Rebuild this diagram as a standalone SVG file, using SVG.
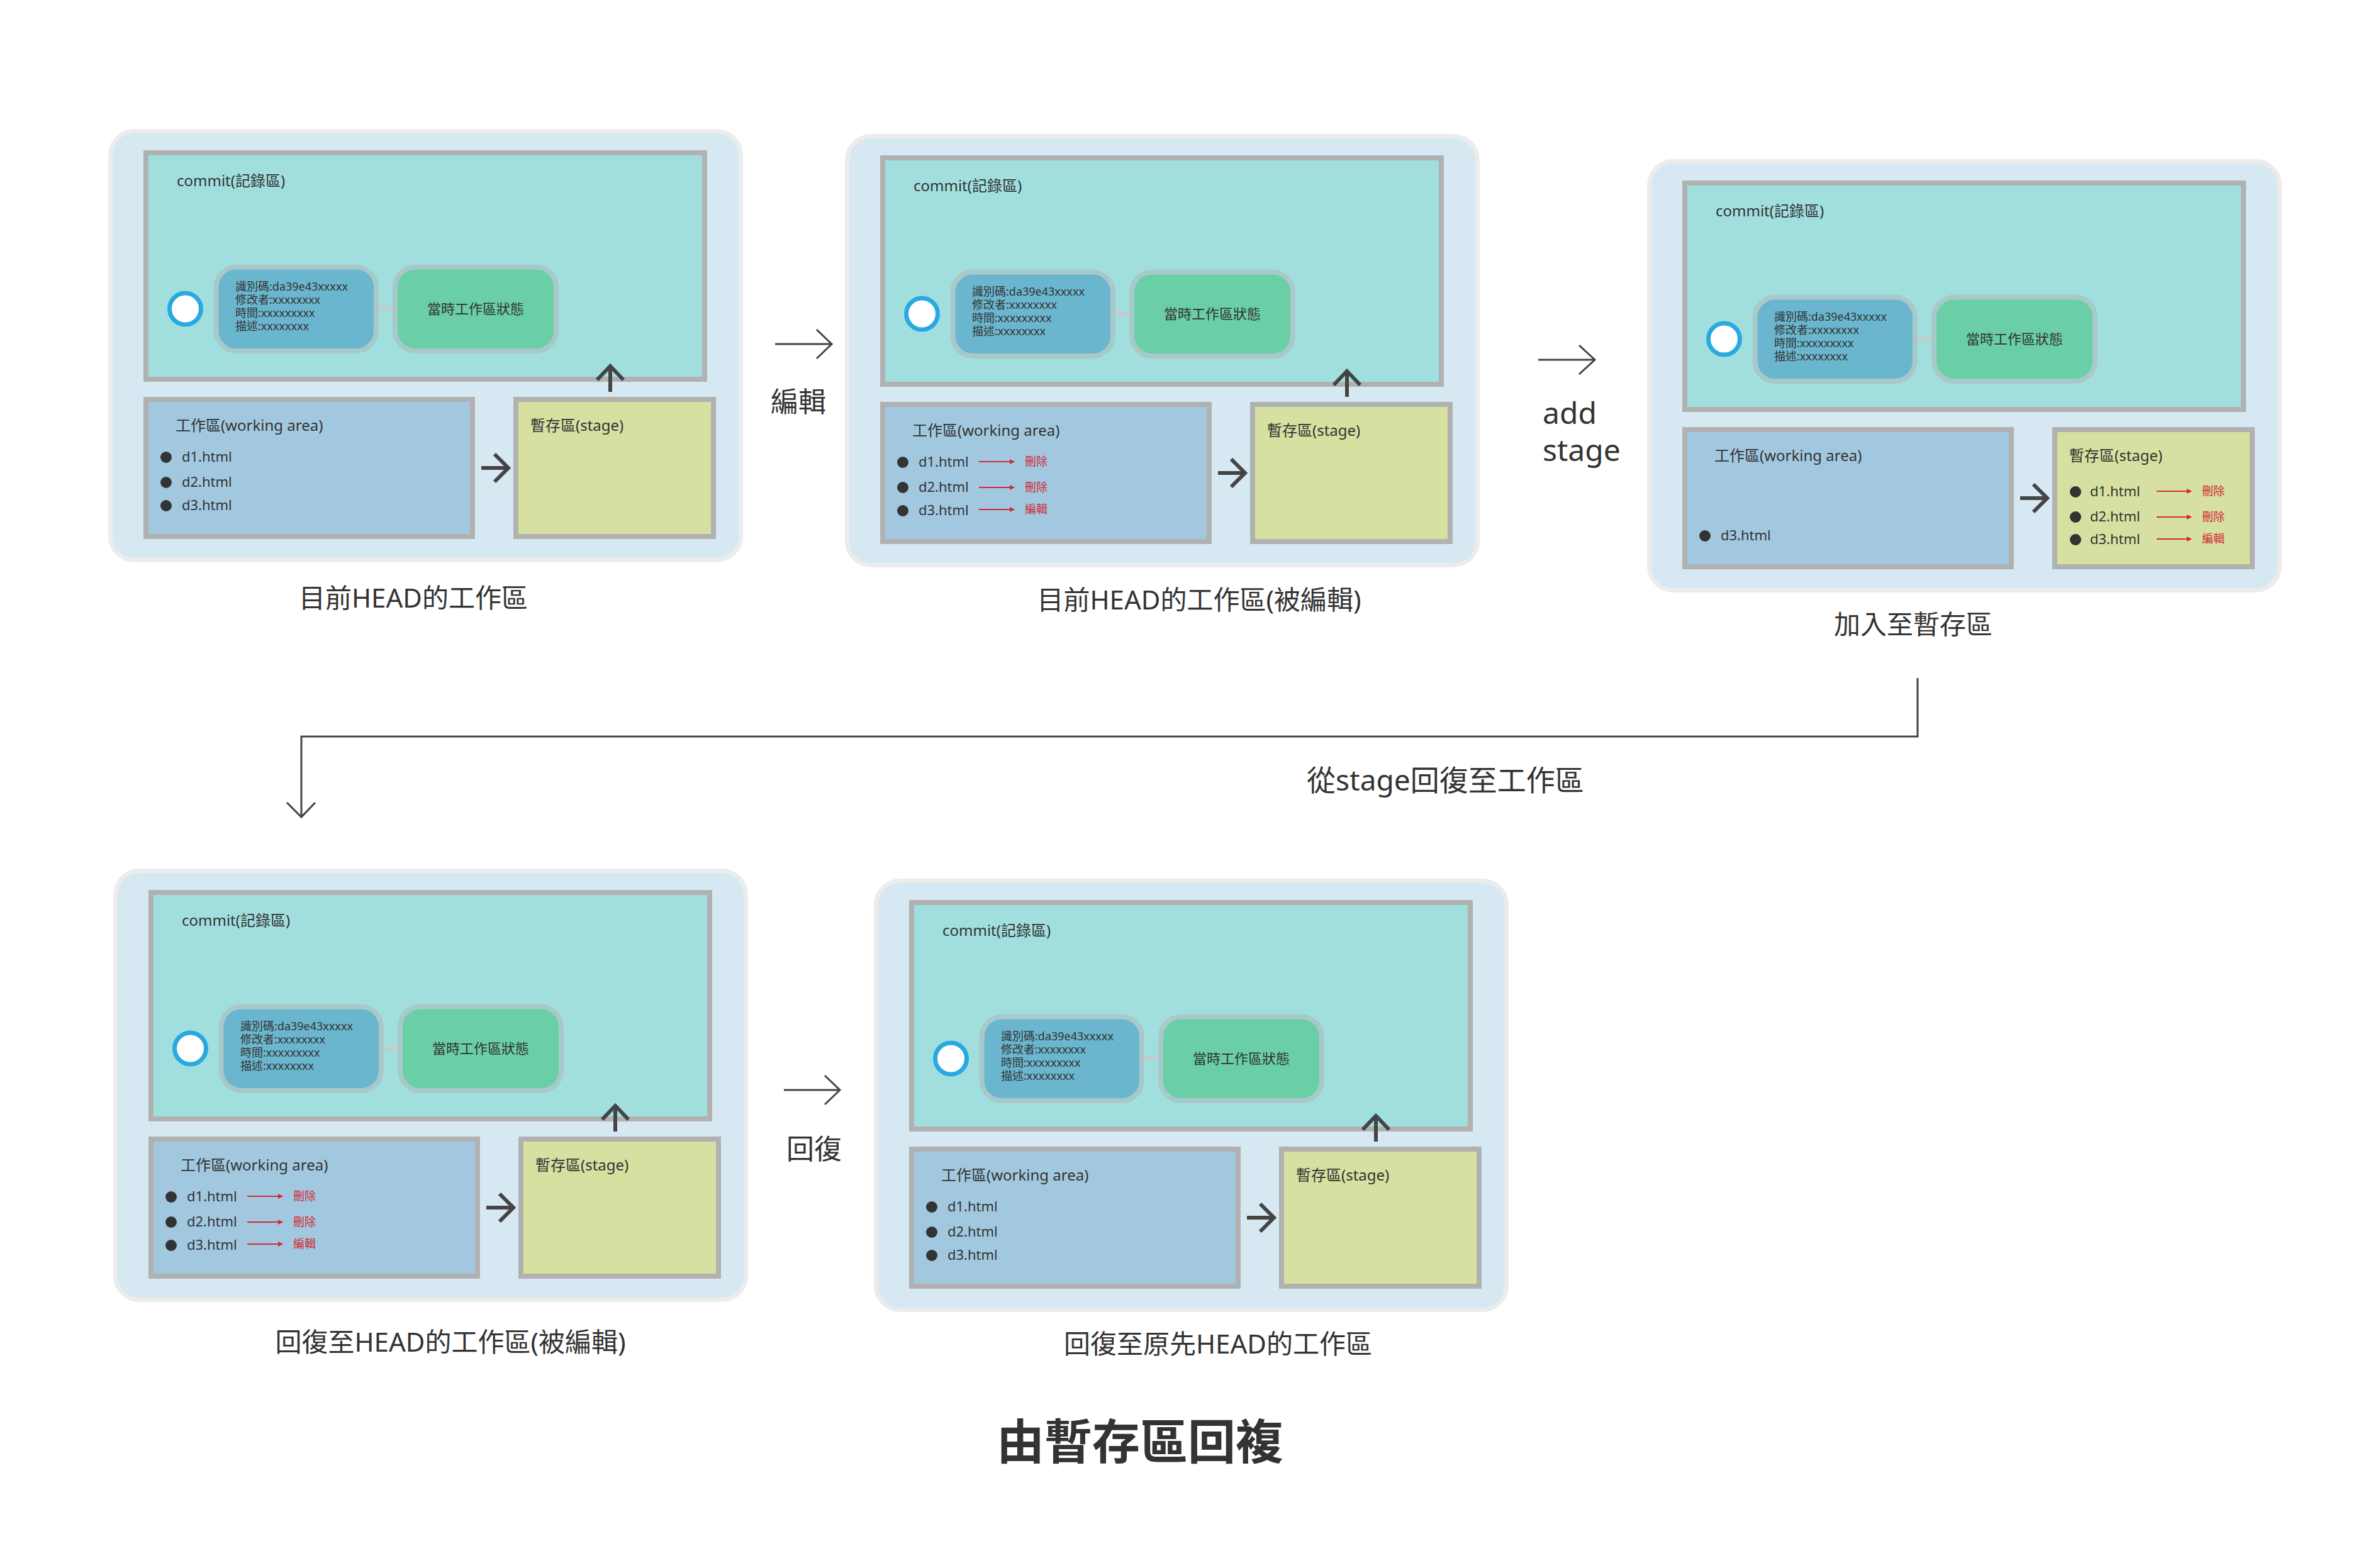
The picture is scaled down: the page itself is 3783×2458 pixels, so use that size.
<svg xmlns="http://www.w3.org/2000/svg" width="3783" height="2458" viewBox="0 0 3783 2458">
<style>
.bg{fill:#ffffff}
.outer{fill:#d6e8f1;stroke:#ececec;stroke-width:7}
.commit{fill:#a1dfdf;stroke:#b1b1b1;stroke-width:8}
.info{fill:#6ab6ce;stroke:#a8c9c9;stroke-width:8}
.state{fill:#6acea7;stroke:#a8c9c9;stroke-width:8}
.work{fill:#a2c8e0;stroke:#b1b1b1;stroke-width:8}
.stage{fill:#d6e0a0;stroke:#b1b1b1;stroke-width:8}
.head{fill:#ffffff;stroke:#2aa9e0;stroke-width:7}
.link{stroke:#c9c9c9;stroke-width:6}
.t{font-family:"Noto Sans","Noto Sans CJK TC",sans-serif;fill:#333333}
.lbl{font-size:24px}
.inf{font-size:18px}
.st{font-size:22px;text-anchor:middle}
.file{font-size:22px}
.dot{fill:#333333}
.arr{fill:none;stroke:#444444;stroke-width:6;stroke-linecap:butt}
.thin{fill:none;stroke:#444444;stroke-width:3}
.red{stroke:#d22a35;stroke-width:2;marker-end:url(#rh)}
.rt{font-family:"Noto Sans CJK TC",sans-serif;font-size:18px;fill:#d22a35}
.cap{font-size:42px;text-anchor:middle}
.big{font-size:44px}
.mid{font-size:48px}
.title{font-family:"Noto Sans CJK TC",sans-serif;font-size:76px;font-weight:bold;fill:#333333;text-anchor:middle}
</style>
<defs>
<marker id="rh" markerWidth="8" markerHeight="8" refX="7" refY="4" orient="auto" markerUnits="userSpaceOnUse">
<path d="M0,0 L8,4 L0,8 Z" fill="#d22a35"/>
</marker>
</defs>
<rect class="bg" x="0" y="0" width="3783" height="2458"/>

<!-- Panel 1 -->
<g id="panel1">
<rect class="outer" x="175.5" y="208.5" width="1002" height="682" rx="38"/>
<g id="p1-commit">
<rect class="commit" x="232" y="243" width="888" height="360"/>
<text class="t lbl" x="281" y="296">commit(記錄區)</text>
<line class="link" x1="600" y1="491" x2="626" y2="491"/>
<circle class="head" cx="294.5" cy="491" r="25"/>
<g id="p1-info"><rect class="info" x="343.5" y="424.5" width="254.5" height="133.5" rx="32"/>
<text class="t inf" x="374" y="462">識別碼:da39e43xxxxx</text>
<text class="t inf" x="374" y="483">修改者:xxxxxxxx</text>
<text class="t inf" x="374" y="504">時間:xxxxxxxxx</text>
<text class="t inf" x="374" y="525">描述:xxxxxxxx</text></g>
<g id="p1-state"><rect class="state" x="628" y="424.5" width="256" height="133.5" rx="32"/>
<text class="t st" x="756" y="499">當時工作區狀態</text></g>
</g>
<g id="p1-work">
<rect class="work" x="232" y="635" width="519" height="218"/>
<text class="t lbl" x="279" y="685">工作區(working area)</text>
<circle class="dot" cx="264" cy="727" r="9"/><text class="t file" x="289" y="734">d1.html</text>
<circle class="dot" cx="264" cy="767" r="9"/><text class="t file" x="289" y="774">d2.html</text>
<circle class="dot" cx="264" cy="804" r="9"/><text class="t file" x="289" y="811">d3.html</text>
</g>
<g id="p1-stage">
<rect class="stage" x="820" y="635" width="314" height="218"/>
<text class="t lbl" x="843" y="685">暫存區(stage)</text>
</g>
<g id="p1-arrows">
<path class="arr" d="M765,744 H807 M786,722 L808,744 L786,766"/>
<path class="arr" d="M970,623 V583 M949,604 L970,582 L991,604"/>
</g>
</g>

<!-- Panel 2 -->
<g id="panel2" transform="translate(1171,8)">
<rect class="outer" x="175.5" y="208.5" width="1002" height="682" rx="38"/>
<g id="p2-commit">
<rect class="commit" x="232" y="243" width="888" height="360"/>
<text class="t lbl" x="281" y="296">commit(記錄區)</text>
<line class="link" x1="600" y1="491" x2="626" y2="491"/>
<circle class="head" cx="294.5" cy="491" r="25"/>
<g id="p2-info"><rect class="info" x="343.5" y="424.5" width="254.5" height="133.5" rx="32"/>
<text class="t inf" x="374" y="462">識別碼:da39e43xxxxx</text>
<text class="t inf" x="374" y="483">修改者:xxxxxxxx</text>
<text class="t inf" x="374" y="504">時間:xxxxxxxxx</text>
<text class="t inf" x="374" y="525">描述:xxxxxxxx</text></g>
<g id="p2-state"><rect class="state" x="628" y="424.5" width="256" height="133.5" rx="32"/>
<text class="t st" x="756" y="499">當時工作區狀態</text></g>
</g>
<g id="p2-work">
<rect class="work" x="232" y="635" width="519" height="218"/>
<text class="t lbl" x="279" y="685">工作區(working area)</text>
<circle class="dot" cx="264" cy="727" r="9"/><text class="t file" x="289" y="734">d1.html</text>
<circle class="dot" cx="264" cy="767" r="9"/><text class="t file" x="289" y="774">d2.html</text>
<circle class="dot" cx="264" cy="804" r="9"/><text class="t file" x="289" y="811">d3.html</text>
<line class="red" x1="385" y1="726" x2="441" y2="726"/><text class="rt" x="458" y="732">刪除</text>
<line class="red" x1="385" y1="767" x2="441" y2="767"/><text class="rt" x="458" y="773">刪除</text>
<line class="red" x1="385" y1="802" x2="441" y2="802"/><text class="rt" x="458" y="808">編輯</text>
</g>
<g id="p2-stage">
<rect class="stage" x="820" y="635" width="314" height="218"/>
<text class="t lbl" x="843" y="685">暫存區(stage)</text>
</g>
<g id="p2-arrows">
<path class="arr" d="M765,744 H807 M786,722 L808,744 L786,766"/>
<path class="arr" d="M970,623 V583 M949,604 L970,582 L991,604"/>
</g>
</g>

<!-- Panel 3 -->
<g id="panel3" transform="translate(2446,48)">
<rect class="outer" x="175.5" y="208.5" width="1002" height="682" rx="38"/>
<g id="p3-commit">
<rect class="commit" x="232" y="243" width="888" height="360"/>
<text class="t lbl" x="281" y="296">commit(記錄區)</text>
<line class="link" x1="600" y1="491" x2="626" y2="491"/>
<circle class="head" cx="294.5" cy="491" r="25"/>
<g id="p3-info"><rect class="info" x="343.5" y="424.5" width="254.5" height="133.5" rx="32"/>
<text class="t inf" x="374" y="462">識別碼:da39e43xxxxx</text>
<text class="t inf" x="374" y="483">修改者:xxxxxxxx</text>
<text class="t inf" x="374" y="504">時間:xxxxxxxxx</text>
<text class="t inf" x="374" y="525">描述:xxxxxxxx</text></g>
<g id="p3-state"><rect class="state" x="628" y="424.5" width="256" height="133.5" rx="32"/>
<text class="t st" x="756" y="499">當時工作區狀態</text></g>
</g>
<g id="p3-work">
<rect class="work" x="232" y="635" width="519" height="218"/>
<text class="t lbl" x="279" y="685">工作區(working area)</text>
<circle class="dot" cx="264" cy="804" r="9"/><text class="t file" x="289" y="811">d3.html</text>
</g>
<g id="p3-stage">
<rect class="stage" x="820" y="635" width="314" height="218"/>
<text class="t lbl" x="843" y="685">暫存區(stage)</text>
<circle class="dot" cx="853" cy="734" r="9"/><text class="t file" x="876" y="741">d1.html</text>
<circle class="dot" cx="853" cy="774" r="9"/><text class="t file" x="876" y="781">d2.html</text>
<circle class="dot" cx="853" cy="810" r="9"/><text class="t file" x="876" y="817">d3.html</text>
<line class="red" x1="982" y1="733" x2="1037" y2="733"/><text class="rt" x="1054" y="739">刪除</text>
<line class="red" x1="982" y1="774" x2="1037" y2="774"/><text class="rt" x="1054" y="780">刪除</text>
<line class="red" x1="982" y1="809" x2="1037" y2="809"/><text class="rt" x="1054" y="815">編輯</text>
</g>
<g id="p3-arrows">
<path class="arr" d="M765,744 H807 M786,722 L808,744 L786,766"/>
</g>
</g>

<!-- Panel 4 -->
<g id="panel4" transform="translate(8,1176)">
<rect class="outer" x="175.5" y="208.5" width="1002" height="682" rx="38"/>
<g id="p4-commit">
<rect class="commit" x="232" y="243" width="888" height="360"/>
<text class="t lbl" x="281" y="296">commit(記錄區)</text>
<line class="link" x1="600" y1="491" x2="626" y2="491"/>
<circle class="head" cx="294.5" cy="491" r="25"/>
<g id="p4-info"><rect class="info" x="343.5" y="424.5" width="254.5" height="133.5" rx="32"/>
<text class="t inf" x="374" y="462">識別碼:da39e43xxxxx</text>
<text class="t inf" x="374" y="483">修改者:xxxxxxxx</text>
<text class="t inf" x="374" y="504">時間:xxxxxxxxx</text>
<text class="t inf" x="374" y="525">描述:xxxxxxxx</text></g>
<g id="p4-state"><rect class="state" x="628" y="424.5" width="256" height="133.5" rx="32"/>
<text class="t st" x="756" y="499">當時工作區狀態</text></g>
</g>
<g id="p4-work">
<rect class="work" x="232" y="635" width="519" height="218"/>
<text class="t lbl" x="279" y="685">工作區(working area)</text>
<circle class="dot" cx="264" cy="727" r="9"/><text class="t file" x="289" y="734">d1.html</text>
<circle class="dot" cx="264" cy="767" r="9"/><text class="t file" x="289" y="774">d2.html</text>
<circle class="dot" cx="264" cy="804" r="9"/><text class="t file" x="289" y="811">d3.html</text>
<line class="red" x1="385" y1="726" x2="441" y2="726"/><text class="rt" x="458" y="732">刪除</text>
<line class="red" x1="385" y1="767" x2="441" y2="767"/><text class="rt" x="458" y="773">刪除</text>
<line class="red" x1="385" y1="802" x2="441" y2="802"/><text class="rt" x="458" y="808">編輯</text>
</g>
<g id="p4-stage">
<rect class="stage" x="820" y="635" width="314" height="218"/>
<text class="t lbl" x="843" y="685">暫存區(stage)</text>
</g>
<g id="p4-arrows">
<path class="arr" d="M765,744 H807 M786,722 L808,744 L786,766"/>
<path class="arr" d="M970,623 V583 M949,604 L970,582 L991,604"/>
</g>
</g>

<!-- Panel 5 -->
<g id="panel5" transform="translate(1217,1192)">
<rect class="outer" x="175.5" y="208.5" width="1002" height="682" rx="38"/>
<g id="p5-commit">
<rect class="commit" x="232" y="243" width="888" height="360"/>
<text class="t lbl" x="281" y="296">commit(記錄區)</text>
<line class="link" x1="600" y1="491" x2="626" y2="491"/>
<circle class="head" cx="294.5" cy="491" r="25"/>
<g id="p5-info"><rect class="info" x="343.5" y="424.5" width="254.5" height="133.5" rx="32"/>
<text class="t inf" x="374" y="462">識別碼:da39e43xxxxx</text>
<text class="t inf" x="374" y="483">修改者:xxxxxxxx</text>
<text class="t inf" x="374" y="504">時間:xxxxxxxxx</text>
<text class="t inf" x="374" y="525">描述:xxxxxxxx</text></g>
<g id="p5-state"><rect class="state" x="628" y="424.5" width="256" height="133.5" rx="32"/>
<text class="t st" x="756" y="499">當時工作區狀態</text></g>
</g>
<g id="p5-work">
<rect class="work" x="232" y="635" width="519" height="218"/>
<text class="t lbl" x="279" y="685">工作區(working area)</text>
<circle class="dot" cx="264" cy="727" r="9"/><text class="t file" x="289" y="734">d1.html</text>
<circle class="dot" cx="264" cy="767" r="9"/><text class="t file" x="289" y="774">d2.html</text>
<circle class="dot" cx="264" cy="804" r="9"/><text class="t file" x="289" y="811">d3.html</text>
</g>
<g id="p5-stage">
<rect class="stage" x="820" y="635" width="314" height="218"/>
<text class="t lbl" x="843" y="685">暫存區(stage)</text>
</g>
<g id="p5-arrows">
<path class="arr" d="M765,744 H807 M786,722 L808,744 L786,766"/>
<path class="arr" d="M970,623 V583 M949,604 L970,582 L991,604"/>
</g>
</g>

<!-- Captions -->
<g id="captions">
<text class="t cap" x="657" y="966">目前HEAD的工作區</text>
<text class="t cap" x="1906" y="969">目前HEAD的工作區(被編輯)</text>
<text class="t cap" x="3041" y="1008">加入至暫存區</text>
<text class="t cap" x="716" y="2149">回復至HEAD的工作區(被編輯)</text>
<text class="t cap" x="1936" y="2152">回復至原先HEAD的工作區</text>
</g>

<!-- Connectors -->
<g id="connectors">
<path class="thin" d="M1232,547 H1321 M1298,524 L1322,547 L1298,570"/>
<path class="thin" d="M2445,572 H2534 M2510,549 L2535,572 L2510,595"/>
<path class="thin" d="M1246,1733 H1334 M1311,1710 L1335,1733 L1311,1756"/>
<path class="thin" d="M3048,1078 V1171 H479 V1297 M456,1276 L479,1299 L501,1276"/>
<text class="t big" x="1225" y="655">編輯</text>
<text class="t mid" x="2452" y="674">add</text>
<text class="t mid" x="2452" y="733">stage</text>
<text class="t big" x="1250" y="1843">回復</text>
<text class="t" style="font-size:46px" x="2077" y="1257">從stage回復至工作區</text>
</g>

<text class="title" x="1812" y="2320">由暫存區回複</text>
</svg>
